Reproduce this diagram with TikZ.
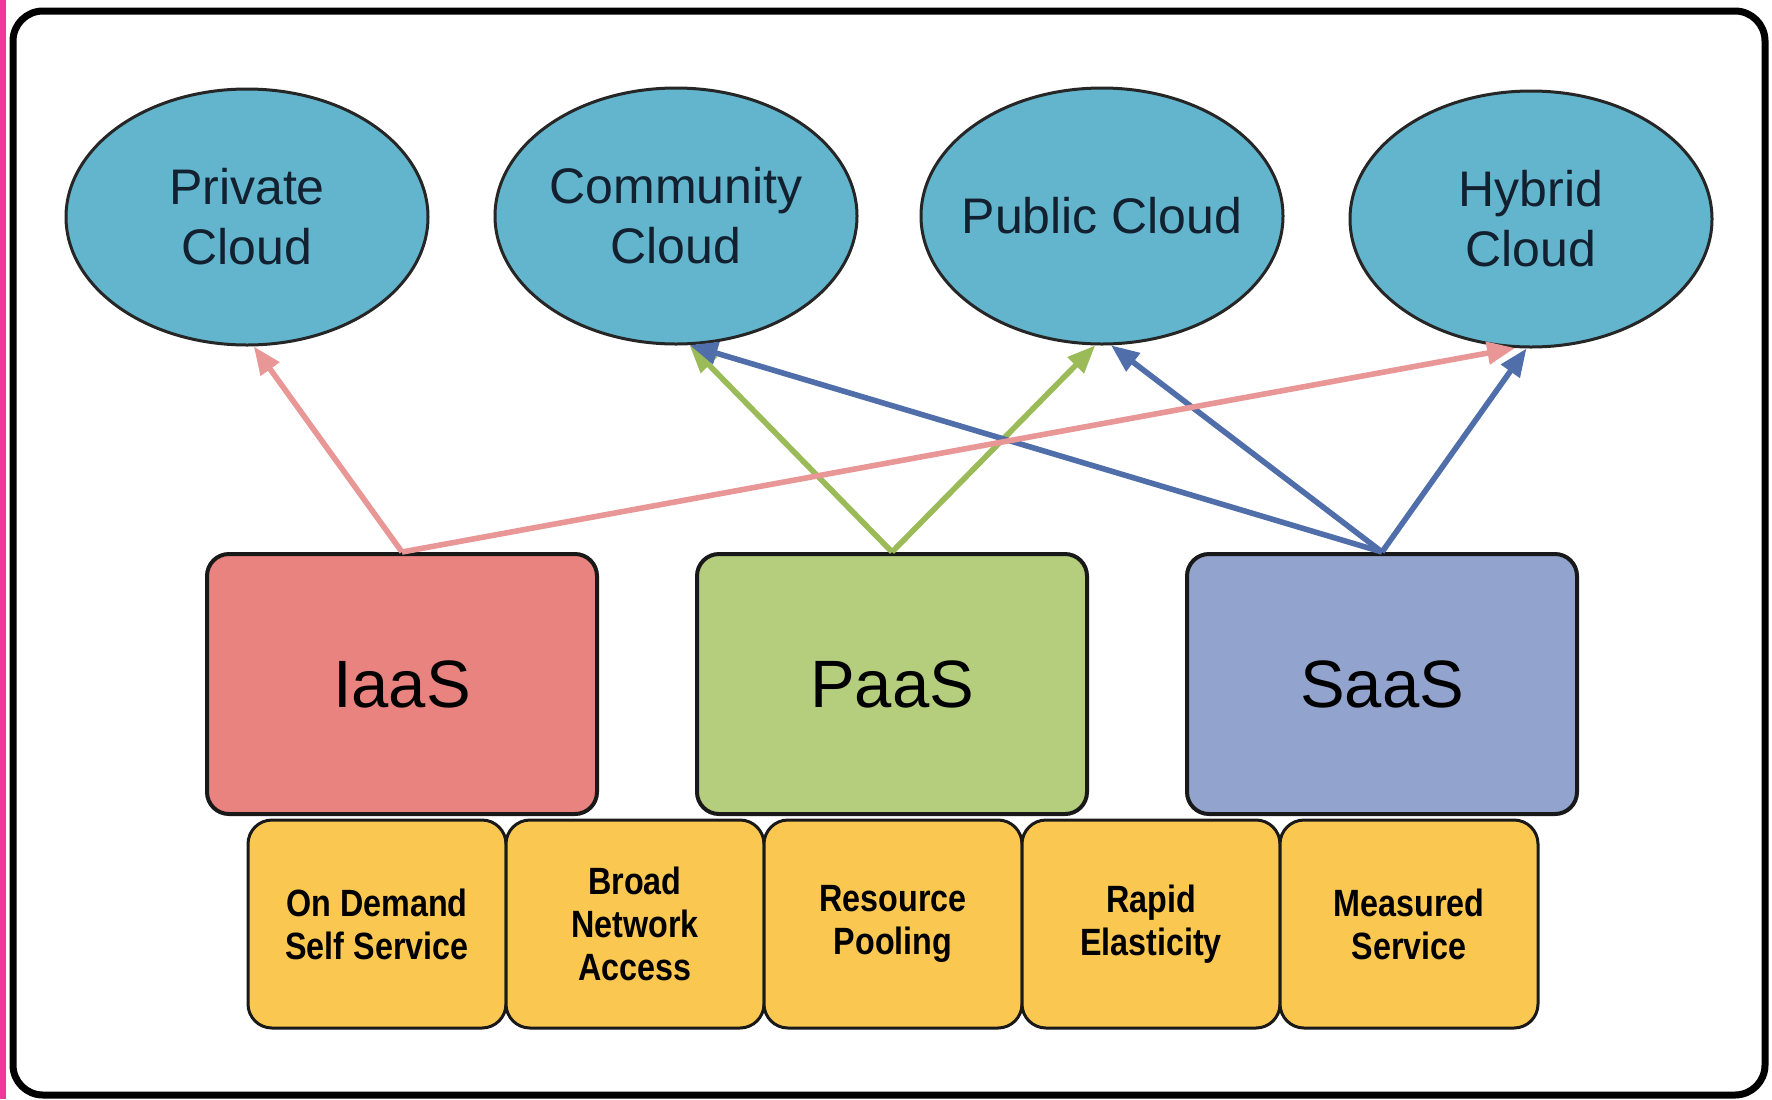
\documentclass[tikz,border=0pt]{standalone}
\usepackage{fontspec}
\setmainfont{Liberation Sans}
\newfontfamily\narrowfont[FakeStretch=0.85]{Liberation Sans}
\usetikzlibrary{shapes.geometric, arrows.meta, positioning}
\definecolor{cloudblue}{RGB}{98,181,204}
\definecolor{clouddark}{RGB}{18,32,48}
\definecolor{iaasred}{RGB}{232,131,128}
\definecolor{paasgreen}{RGB}{181,206,125}
\definecolor{saasblue}{RGB}{146,163,205}
\definecolor{featureyellow}{RGB}{250,200,80}
\definecolor{linkpink}{RGB}{232,150,150}
\definecolor{linkgreen}{RGB}{155,187,89}
\definecolor{linkblue}{RGB}{80,110,170}
\definecolor{edgemagenta}{RGB}{240,56,154}

\begin{document}
\begin{tikzpicture}[
    x=0.5pt, y=-0.5pt,
    cloud/.style={ellipse, draw=black!85, line width=1.5pt, fill=cloudblue, minimum width=181pt, minimum height=128pt, inner sep=0pt, align=center, text=clouddark, font=\fontsize{25}{30}\selectfont},
    service/.style={rectangle, draw=black!90, line width=2pt, rounded corners=11pt, minimum width=195pt, minimum height=130pt, font=\fontsize{33.5}{40}\selectfont},
    feature/.style={rectangle, draw=black!90, fill=featureyellow, line width=1.5pt, rounded corners=12pt, minimum width=129pt, minimum height=104pt, inner sep=0pt, outer sep=0pt, align=center, font=\narrowfont\bfseries\fontsize{19}{21.5}\selectfont},
    arrow/.style={-{Triangle[length=14pt, width=11pt]}, line width=2.8pt}
]
\useasboundingbox (0,0) rectangle (1772,1099);

% Frame
\fill[edgemagenta] (0,0) rectangle (6,1099);
\draw[line width=3.5pt, rounded corners=15pt] (13,11) rectangle (1765,1095);

% Deployment models
\node[cloud] (private) at (247,217) {Private\\Cloud};
\node[cloud] (community) at (676,216) {Community\\Cloud};
\node[cloud, inner xsep=-25pt] (public) at (1102,216) {Public Cloud};
\node[cloud] (hybrid) at (1531,219) {Hybrid\\Cloud};

% Service models
\node[service, fill=iaasred] (iaas) at (402,684) {IaaS};
\node[service, fill=paasgreen] (paas) at (892,684) {PaaS};
\node[service, fill=saasblue] (saas) at (1382,684) {SaaS};

% Essential characteristics
\node[feature] (ondemand) at (377,924) {On Demand\\Self Service};
\node[feature, right=0pt of ondemand] (network) {Broad\\Network\\Access};
\node[feature, right=0pt of network] (pooling) {Resource\\Pooling};
\node[feature, right=0pt of pooling] (elastic) {Rapid\\Elasticity};
\node[feature, right=0pt of elastic] (measured) {Measured\\Service};

% Arrows
\draw[arrow, linkgreen] (paas.north) -- (community.-84);
\draw[arrow, linkgreen] (paas.north) -- (public.-93);
\draw[arrow, linkblue] (saas.north) -- (community.-84);
\draw[arrow, linkblue] (saas.north) -- (public.-86);
\draw[arrow, linkblue] (saas.north) -- (hybrid.-92);
\draw[arrow, linkpink] (iaas.north) -- (private.-87);
\draw[arrow, linkpink] (iaas.north) -- (hybrid.-97);

\end{tikzpicture}
\end{document}
